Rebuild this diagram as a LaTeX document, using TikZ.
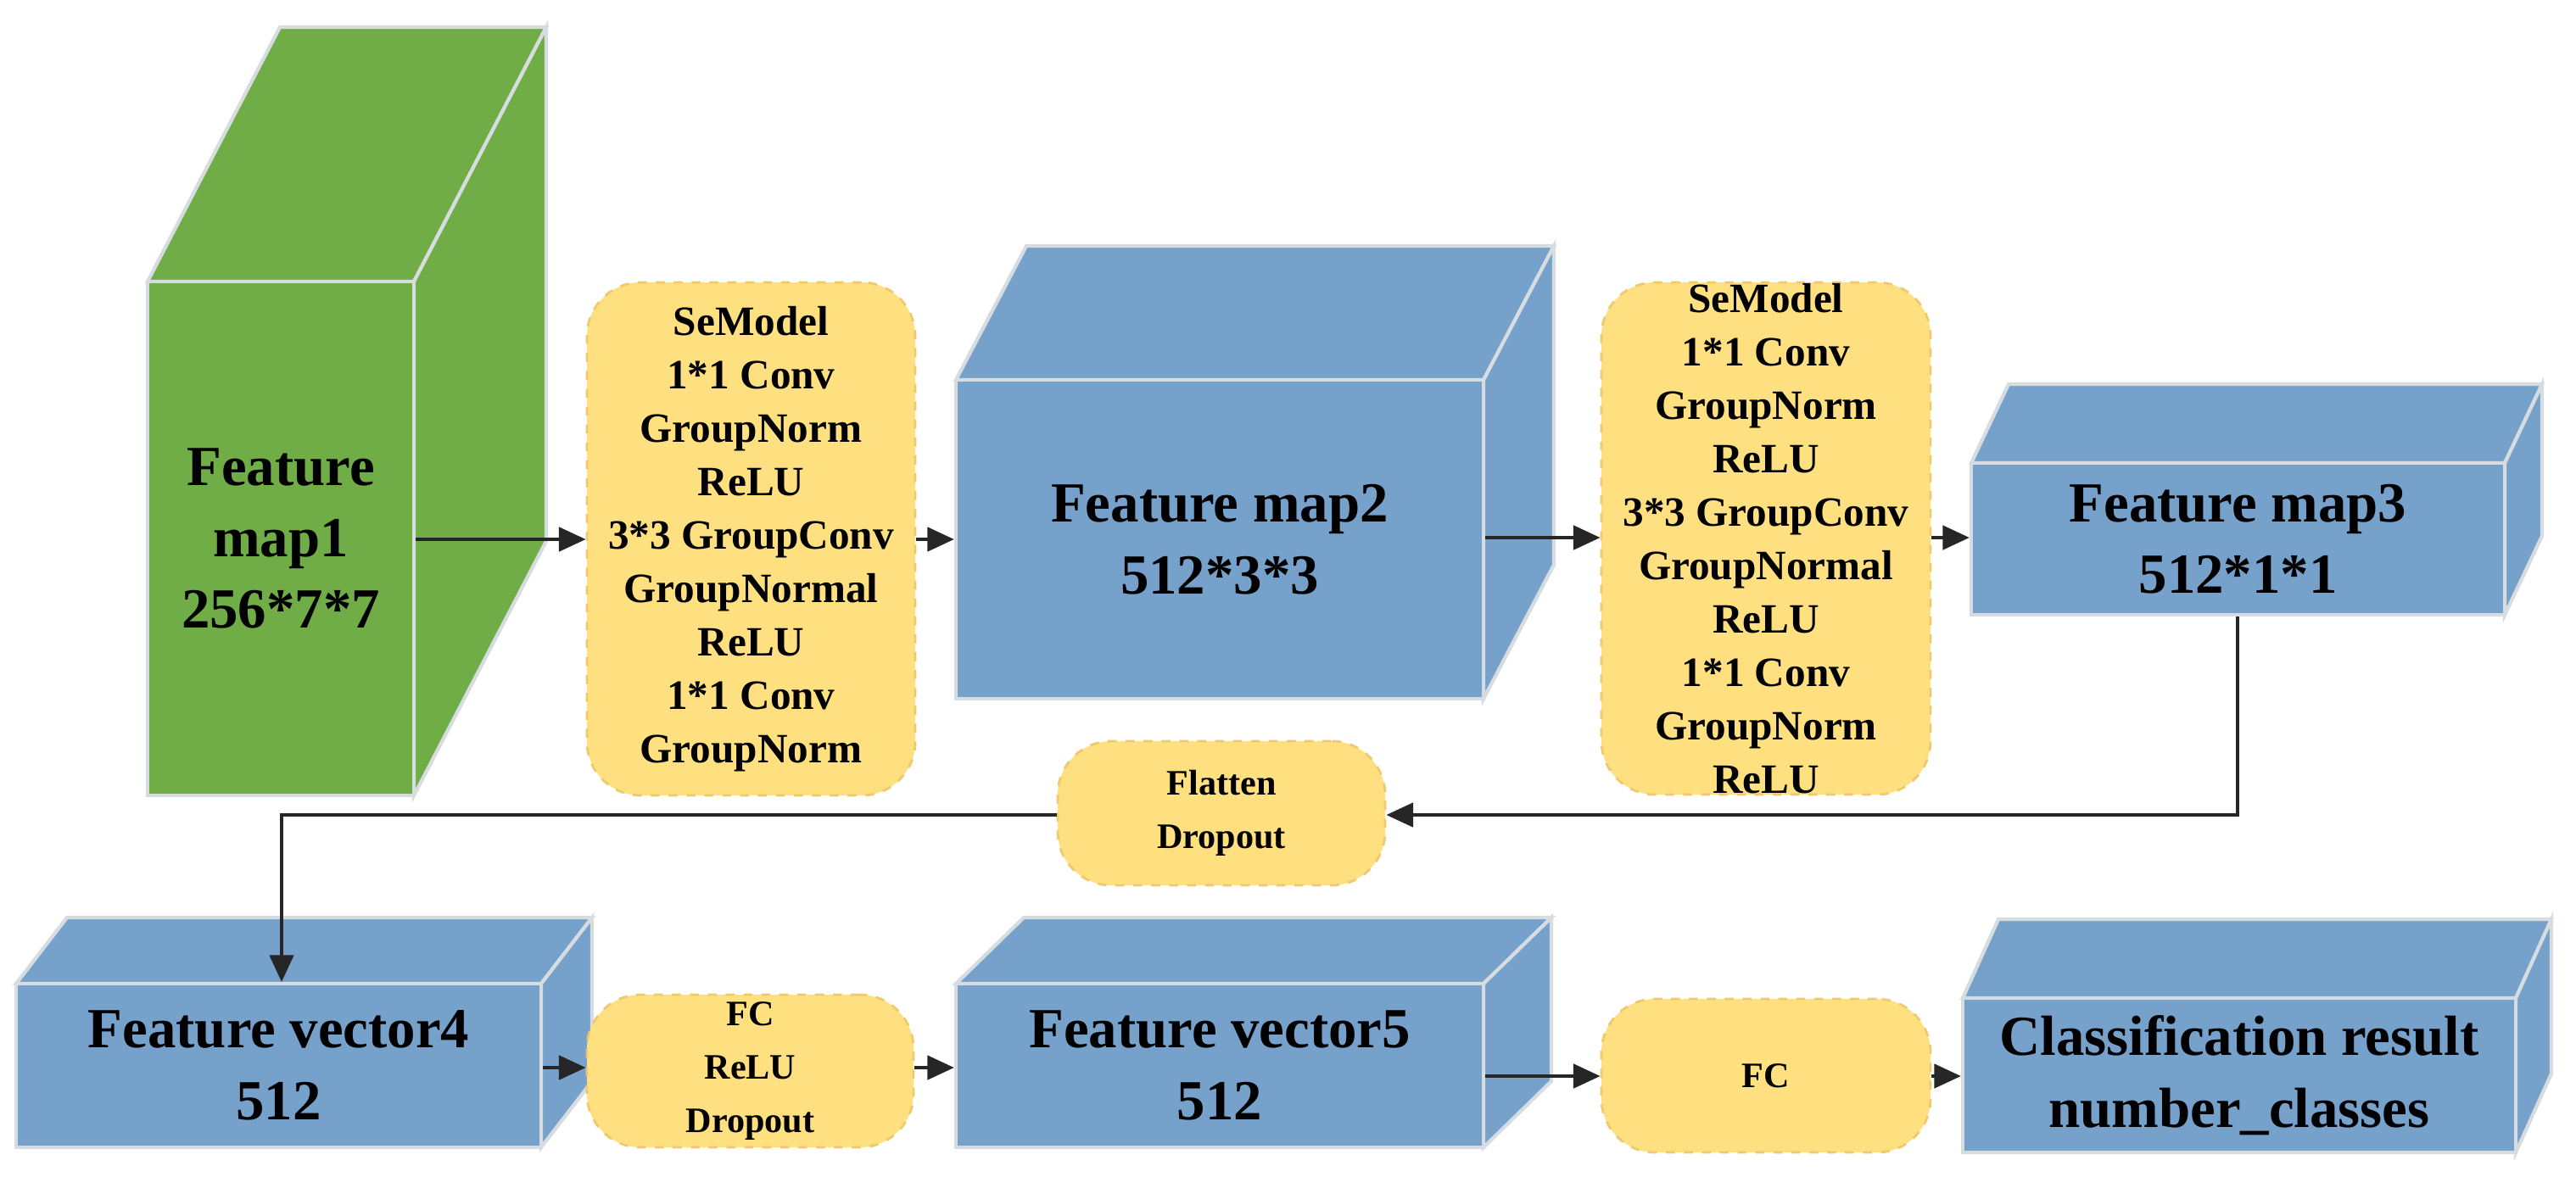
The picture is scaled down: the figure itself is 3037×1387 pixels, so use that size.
\documentclass[tikz,border=0pt]{standalone}
\usepackage{fontspec}
\setmainfont{Liberation Serif}
\usetikzlibrary{fit,arrows.meta}
\definecolor{gr}{RGB}{112,173,71}
\definecolor{bl}{RGB}{117,161,203}
\definecolor{ye}{RGB}{255,224,128}
\definecolor{edge}{RGB}{215,220,225}
\definecolor{yb}{RGB}{240,200,110}
\tikzset{
  face/.style={draw=edge,line width=1.2pt},
  ybox/.style={draw=yb,dashed,fill=ye,rounded corners=18pt,inner sep=0pt,line width=0.8pt},
  ytxt/.style={font=\bfseries\fontsize{14}{17.9}\selectfont,align=center},
  btxt/.style={font=\bfseries\fontsize{19}{24}\selectfont,align=center},
  arr/.style={-{Triangle[length=9pt,width=8pt]},line width=1.3pt,black!85},
}
\newcommand\cub[9]{%
  \fill[#8,face] (#2,#3)--++(#6,#7)--(#4+#6,#3+#7)--(#4,#3)--cycle;
  \fill[#8,face] (#4,#3)--(#4+#6,#3+#7)--(#4+#6,#5+#7)--(#4,#5)--cycle;
  \coordinate (#1-a) at (#2,#3); \coordinate (#1-b) at (#4,#5);
  \node[fit=(#1-a)(#1-b),inner sep=0pt,fill=#8,face] (#1) {};
  \node[btxt] at (#1) {#9};}
\newcommand\ybx[6]{%
  \coordinate (#1-a) at (#2,#3); \coordinate (#1-b) at (#4,#5);
  \node[fit=(#1-a)(#1-b),ybox] (#1) {};
  \node[ytxt] at (#1) {#6};}
\begin{document}
\begin{tikzpicture}[x=0.01cm,y=-0.01cm]
\useasboundingbox[fill=white] (0,0) rectangle (3037,1387);
\cub{m1}{174}{332}{488}{938}{156}{-300}{gr}{Feature\\map1\\256*7*7}
\cub{m2}{1127}{448}{1749}{824}{83}{-158}{bl}{Feature map2\\512*3*3}
\cub{m3}{2324}{546}{2953}{725}{44}{-93}{bl}{Feature map3\\512*1*1}
\cub{v4}{19}{1160}{638}{1353}{60}{-78}{bl}{Feature vector4\\512}
\cub{v5}{1127}{1160}{1749}{1353}{80}{-78}{bl}{Feature vector5\\512}
\cub{cr}{2314}{1177}{2966}{1359}{42}{-93}{bl}{Classification result\\number\_classes}
\ybx{y1}{692}{333}{1079}{938}{SeModel\\1*1 Conv\\GroupNorm\\ReLU\\3*3 GroupConv\\GroupNormal\\ReLU\\1*1 Conv\\GroupNorm}
\ybx{y2}{1888}{333}{2276}{937}{SeModel\\1*1 Conv\\GroupNorm\\ReLU\\3*3 GroupConv\\GroupNormal\\ReLU\\1*1 Conv\\GroupNorm\\ReLU}
\ybx{fl}{1247}{874}{1633}{1044}{\fontsize{12}{17}\selectfont Flatten\\\fontsize{12}{17}\selectfont Dropout}
\ybx{y3}{692}{1173}{1077}{1353}{\fontsize{12}{17}\selectfont FC\\\fontsize{12}{17}\selectfont ReLU\\\fontsize{12}{17}\selectfont Dropout}
\ybx{fc}{1888}{1178}{2276}{1359}{\fontsize{12}{17}\selectfont FC}
\draw[arr] (m1.east|-0,636) -- (y1.west|-0,636);
\draw[arr] (y1.east|-0,636) -- (m2.west|-0,636);
\draw[arr] (m2.east|-0,634) -- (y2.west|-0,634);
\draw[arr] (y2.east|-0,634) -- (m3.west|-0,634);
\coordinate (c1) at (2638,961);
\coordinate (c2) at (332,961);
\draw[arr] (m3.south-|c1) -- (c1) -- (fl.east|-c1);
\draw[arr] (fl.west|-c2) -- (c2) -- (v4.north-|c2);
\draw[arr] (v4.east|-0,1259) -- (y3.west|-0,1259);
\draw[arr] (y3.east|-0,1259) -- (v5.west|-0,1259);
\draw[arr] (v5.east|-0,1269) -- (fc.west|-0,1269);
\draw[arr] (fc.east|-0,1269) -- (cr.west|-0,1269);
\end{tikzpicture}
\end{document}
